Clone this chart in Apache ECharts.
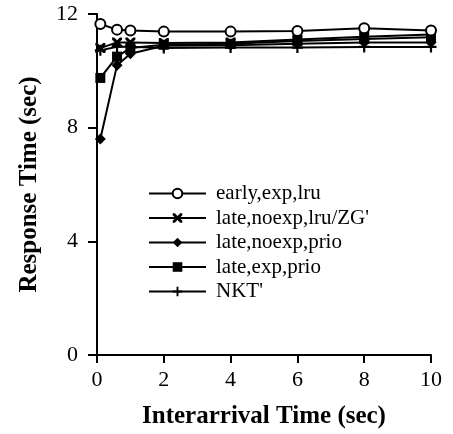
<!DOCTYPE html>
<html>
<head>
<meta charset="utf-8">
<script src="https://cdn.jsdelivr.net/npm/echarts@6/dist/echarts.min.js"></script>
<style>
  html, body { margin: 0; padding: 0; background: #fff; }
  #chart { width: 453px; height: 434px; }
</style>
</head>
<body>
<div id="chart"></div>
<script>
// interarrival times (sec)
const xValues = [0.1, 0.6, 1, 2, 4, 6, 8, 10]

const seriesNames = ['early,exp,lru', "late,noexp,lru/ZG'", 'late,noexp,prio', 'late,exp,prio', "NKT'"]

// response times (sec)
const earlyExpLru = [11.65, 11.45, 11.42, 11.38, 11.38, 11.4, 11.5, 11.42]
const lateNoexpLru = [10.8, 11.0, 11.0, 10.98, 11.0, 11.1, 11.2, 11.28]
const lateNoexpPrio = [7.6, 10.2, 10.6, 10.88, 10.9, 10.95, 11.0, 11.0]
const lateExpPrio = [9.75, 10.5, 10.8, 10.92, 10.95, 11.05, 11.12, 11.18]
const nkt = [10.72, 10.85, 10.85, 10.8, 10.82, 10.82, 10.84, 10.84]

const yTicks = [0, 4, 8, 12]
const xTicks = [0, 2, 4, 6, 8, 10]

const crossPath = 'path://M0,0 L2.2,0 L5,2.8 L7.8,0 L10,0 L10,2.2 L7.2,5 L10,7.8 L10,10 L7.8,10 L5,7.2 L2.2,10 L0,10 L0,7.8 L2.8,5 L0,2.2 Z'
const plusPath = 'path://M4,0 L6,0 L6,4 L10,4 L10,6 L6,6 L6,10 L4,10 L4,6 L0,6 L0,4 L4,4 Z'

const serif = '"Liberation Serif", "DejaVu Serif", serif'

const toPairs = arr => arr.map((v, i) => [xValues[i], v])

const mk = (name, data, symbol, size, fill) => ({
  name,
  type: 'line',
  data: toPairs(data),
  symbol,
  symbolSize: size,
  showSymbol: true,
  lineStyle: { color: '#000', width: 2 },
  itemStyle: { color: fill, borderColor: '#000', borderWidth: symbol === 'circle' ? 2 : 0 },
  emphasis: { disabled: true },
  z: symbol === 'circle' ? 3 : 2
})

const chart = echarts.init(document.getElementById('chart'))

chart.setOption({
  backgroundColor: '#fff',
  animation: false,
  grid: { left: 97, right: 22, top: 14, bottom: 77 },
  legend: {
    orient: 'vertical',
    left: 148,
    top: 183,
    padding: 0,
    itemWidth: 57,
    itemHeight: 12,
    itemGap: 3.5,
    data: seriesNames,
    textStyle: { fontFamily: serif, fontSize: 21, lineHeight: 18, color: '#000', padding: [0, 0, 0, 5] },
    inactiveColor: '#000'
  },
  xAxis: {
    type: 'value',
    min: 0,
    max: 10,
    interval: 2,
    name: 'Interarrival Time (sec)',
    nameLocation: 'middle',
    nameGap: 49,
    nameTextStyle: { fontFamily: serif, fontSize: 25, fontWeight: 'bold', color: '#000' },
    axisLine: { lineStyle: { color: '#000', width: 2 } },
    axisTick: { show: true, length: 8, lineStyle: { color: '#000', width: 2 } },
    axisLabel: {
      fontFamily: serif, fontSize: 22, color: '#000', margin: 14,
      formatter: v => xTicks.includes(v) ? String(v) : ''
    },
    splitLine: { show: false }
  },
  yAxis: {
    type: 'value',
    min: 0,
    max: 12,
    interval: 4,
    name: 'Response Time (sec)',
    nameLocation: 'middle',
    nameGap: 55,
    nameTextStyle: { fontFamily: serif, fontSize: 25, fontWeight: 'bold', color: '#000' },
    axisLine: { show: true, lineStyle: { color: '#000', width: 2 } },
    axisTick: { show: true, length: 9, lineStyle: { color: '#000', width: 2 } },
    axisLabel: {
      fontFamily: serif, fontSize: 22, color: '#000', margin: 19,
      formatter: v => yTicks.includes(v) ? String(v) : ''
    },
    splitLine: { show: false }
  },
  series: [
    mk(seriesNames[0], earlyExpLru, 'circle', 10, '#fff'),
    mk(seriesNames[1], lateNoexpLru, crossPath, 10, '#000'),
    mk(seriesNames[2], lateNoexpPrio, 'diamond', 11, '#000'),
    mk(seriesNames[3], lateExpPrio, 'rect', 10, '#000'),
    mk(seriesNames[4], nkt, plusPath, 11, '#000')
  ]
})
</script>
</body>
</html>
